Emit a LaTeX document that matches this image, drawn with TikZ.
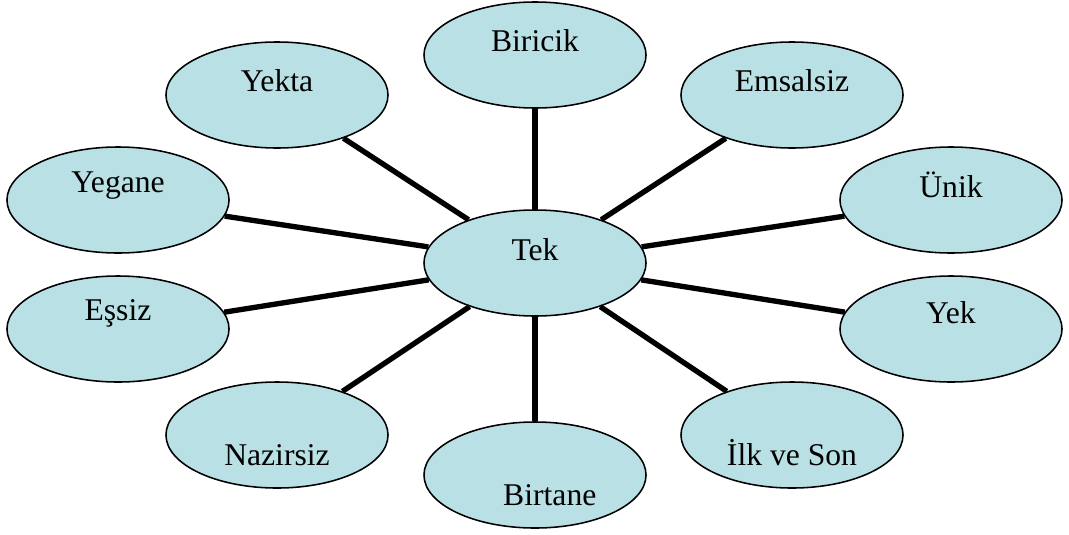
\documentclass[tikz,border=0pt]{standalone}
\usepackage{fontspec}
\setmainfont{Liberation Serif}
\usetikzlibrary{shapes.geometric}
\definecolor{bub}{RGB}{185,224,228}

\begin{document}
\begin{tikzpicture}[x=0.025cm,y=-0.025cm,
  bubble/.style={ellipse,draw,line width=1.1pt,fill=bub,
    minimum width=5.55cm,minimum height=2.65cm,inner sep=0pt},
  txt/.style={font=\fontsize{22.5}{26}\selectfont,inner sep=0pt},
  spoke/.style={line width=3.8pt}]
\useasboundingbox (0,0) rectangle (1069,534);

% centre
\node[bubble,label={[txt,yshift=0.33cm]center:Tek}] (tek) at (535,263) {};

% top row
\node[bubble,label={[txt,yshift=0.37cm]center:Biricik}] (biricik) at (535,55) {};
\node[bubble,label={[txt,yshift=0.37cm]center:Yekta}] (yekta) at (277,95) {};
\node[bubble,label={[txt,yshift=0.37cm]center:Emsalsiz}] (emsalsiz) at (792,95) {};

% sides
\node[bubble,label={[txt,yshift=0.37cm]center:Yegane}] (yegane) at (118,200) {};
\node[bubble,label={[txt,yshift=0.37cm]center:Ünik}] (unik) at (951,200) {};
\node[bubble,label={[txt,yshift=0.4cm]center:Eşsiz}] (essiz) at (118,329) {};
\node[bubble,label={[txt,yshift=0.4cm]center:Yek}] (yek) at (951,329) {};

% bottom row
\node[bubble,label={[txt,yshift=-0.5cm]center:Nazirsiz}] (nazirsiz) at (277,435) {};
\node[bubble,label={[txt,yshift=-0.45cm]center:İlk ve Son}] (ilk) at (792,435) {};
\node[bubble,label={[txt,yshift=-0.5cm,xshift=0.37cm]center:Birtane}] (birtane) at (535,475) {};

% spokes
\draw[spoke] (tek) -- (biricik);
\draw[spoke] (tek) -- (yekta);
\draw[spoke] (tek) -- (emsalsiz);
\draw[spoke] (tek) -- (yegane);
\draw[spoke] (tek) -- (unik);
\draw[spoke] (tek) -- (essiz);
\draw[spoke] (tek) -- (yek);
\draw[spoke] (tek) -- (nazirsiz);
\draw[spoke] (tek) -- (ilk);
\draw[spoke] (tek) -- (birtane);

\end{tikzpicture}
\end{document}
